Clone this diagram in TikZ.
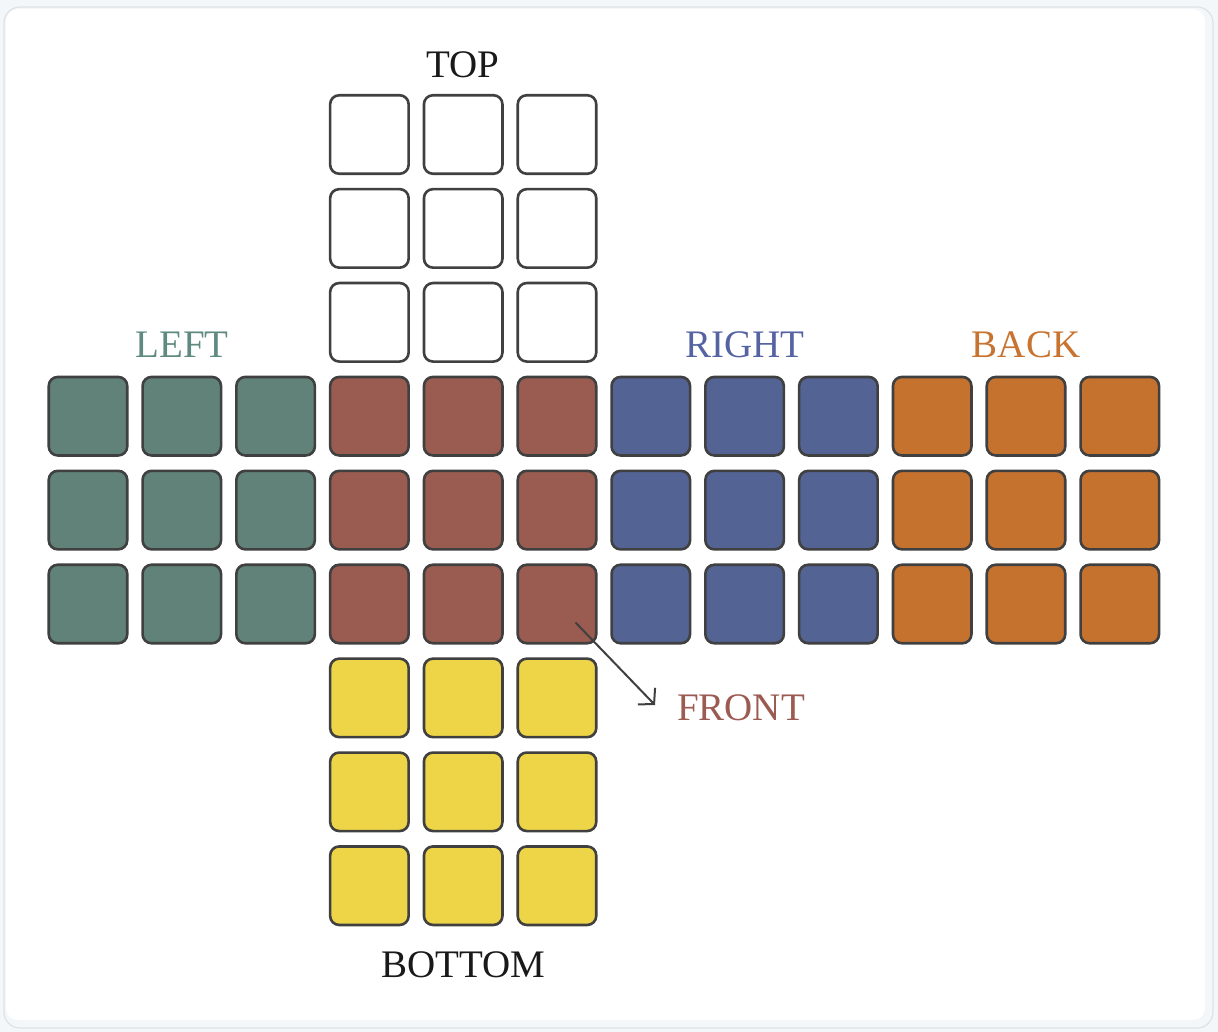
\documentclass[tikz,border=0pt]{standalone}
\usepackage{fontspec}
\setmainfont{Liberation Serif}
\usetikzlibrary{arrows.meta,calc}
\definecolor{cteal}{HTML}{608279}
\definecolor{cbrown}{HTML}{9A5C50}
\definecolor{cblue}{HTML}{536394}
\definecolor{corange}{HTML}{C6722F}
\definecolor{cyellow}{HTML}{EED548}
\definecolor{cedge}{HTML}{404040}
\definecolor{tteal}{HTML}{5F8A80}
\definecolor{tblue}{HTML}{5563A3}
\definecolor{torange}{HTML}{C8732F}
\definecolor{tbrown}{HTML}{9C5B52}
\definecolor{bgout}{HTML}{F3F7FA}
\definecolor{bgline}{HTML}{DCE2E7}
\tikzset{
  cell/.style={draw=cedge,line width=2.6pt,rounded corners=9pt,minimum size=78.5pt,inner sep=0pt},
  facelabel/.style={font=\fontsize{39}{39}\selectfont,anchor=base,inner sep=0pt},
  pointer/.style={draw=cedge,line width=2pt,-{Straight Barb[length=11pt,width=24pt,line width=2pt]}}
}
\begin{document}
\begin{tikzpicture}[x=1pt,y=-1pt]
\useasboundingbox (0,0) rectangle (1218,1032);
\fill[bgout] (0,0) rectangle (1218,1032);
\filldraw[fill=bgout,draw=bgline,line width=1.2pt,rounded corners=16pt] (4,7) rectangle (1213,1028);
\fill[white,rounded corners=12pt] (6,9) rectangle (1205,1020);
% cells
\foreach \i in {0,1,2}{
  \foreach \j in {0,1,2}{
    % top
    \node[cell,fill=white] (t\j\i) at ({88+93.8*(3+\i)},{134.5+93.9*\j}) {};
    % left
    \node[cell,fill=cteal] (l\j\i) at ({88+93.8*\i},{134.5+93.9*(3+\j)}) {};
    % front
    \node[cell,fill=cbrown] (f\j\i) at ({88+93.8*(3+\i)},{134.5+93.9*(3+\j)}) {};
    % right
    \node[cell,fill=cblue] (r\j\i) at ({88+93.8*(6+\i)},{134.5+93.9*(3+\j)}) {};
    % back
    \node[cell,fill=corange] (b\j\i) at ({88+93.8*(9+\i)},{134.5+93.9*(3+\j)}) {};
    % bottom
    \node[cell,fill=cyellow] (d\j\i) at ({88+93.8*(3+\i)},{134.5+93.9*(6+\j)}) {};
  }
}
% labels
\node[facelabel,text=black!90] (ltop) at (463,78) {TOP};
\node[facelabel,text=tteal] (lleft) at (182,357) {LEFT};
\node[facelabel,text=tblue] (lright) at (745,357) {RIGHT};
\node[facelabel,text=torange] (lback) at (1026,357) {BACK};
\node[facelabel,text=black!90] (lbottom) at (463,977) {BOTTOM};
\node[facelabel,text=tbrown] (lfront) at (741,720) {FRONT};
% pointer
\coordinate (arrS) at ($(f22.center)+(18.5,18.5)$);
\coordinate (arrE) at (655,705);
\draw[pointer] (arrS) -- (arrE);
\end{tikzpicture}
\end{document}
